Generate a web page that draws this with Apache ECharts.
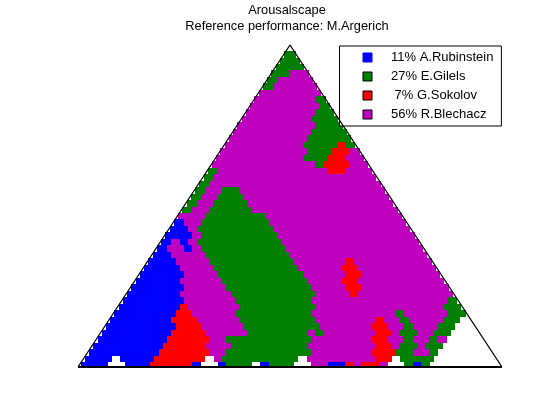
<!DOCTYPE html>
<html>
<head>
<meta charset="utf-8">
<style>html,body{margin:0;padding:0;background:#fff}#c{width:560px;height:420px}</style>
<script src="https://cdn.jsdelivr.net/npm/echarts@6/dist/echarts.min.js"></script>
</head>
<body>
<div id="c"></div>
<script>
const titleLines = ["Arousalscape", "Reference performance: M.Argerich"];
const performers = ["B", "G", "R", "M"];
const performerNames = ["11% A.Rubinstein", "27% E.Gilels", " 7% G.Sokolov", "56% R.Blechacz"];
const performerColors = ["#0000ff", "#007f00", "#ff0000", "#bf00bf"];
// Scape rows, bottom row first: each token is a performer letter and the
// horizontal position at which that performer's run ends (W = no winner).
const scapeRows = [
"B3.5 W5.5 B8.5 R13.5 B14.5 W16.5 B17.5 G20.5 W21.5 B22.5 G25.5 W27.5 M29.5 B31.5 R32.5 M33.5 R35.5 M36.5 W38.5 G39.5 B40.5 G41.5",
"B4 W5 B9 R15 W16 M17 G26 W27 M35 R37 W38 G42",
"B9.5 R15.5 M17.5 G27.5 M34.5 R37.5 G39.5 M41.5 G42.5",
"B10 R15 M18 G27 M35 R37 M38 G40 M41 G43",
"B10.5 R15.5 M17.5 G27.5 M34.5 R36.5 M38.5 G39.5 M41.5 G42.5 M43.5",
"B11 R15 M20 G27 M28 G29 M35 R37 M38 G40 M42 G44",
"B11.5 R14.5 M19.5 G28.5 M34.5 R36.5 M38.5 G39.5 M42.5 G44.5",
"B11 R14 M19 G28 M35 R36 M38 G39 M43 G45",
"B11.5 R13.5 M18.5 G27.5 M37.5 G38.5 M43.5 G45.5",
"B12 R13 M19 G28 M43 G45",
"B12.5 M18.5 G27.5 M43.5 G44.5",
"B12 M18 G28 M32 R33 M44",
"B12.5 M17.5 G27.5 M31.5 R33.5 M43.5",
"B12 M17 G27 M31 R33 M43",
"B12.5 M16.5 G26.5 M31.5 R33.5 M42.5",
"B12 M16 G26 M31 R33 M42",
"B11.5 M15.5 G25.5 M31.5 R32.5 M41.5",
"B11 M15 G25 M41",
"B10.5 M12.5 B13.5 M14.5 G24.5 M40.5",
"B11 M12 B13 M14 G24 M40",
"B13.5 M14.5 G23.5 M39.5",
"B13 M14 G23 M39",
"B12.5 M14.5 G22.5 M38.5",
"M15 G22 M38",
"G13.5 M15.5 G20.5 M37.5",
"G14 M16 G20 M37",
"G14.5 M16.5 G19.5 M36.5",
"G15 M17 G19 M36",
"G15.5 M35.5",
"G16 M35",
"G16.5 M29.5 R31.5 M34.5",
"M28 G29 R32 M34",
"M26.5 G29.5 R31.5 M33.5",
"M27 G30 R32 M33",
"M26.5 G30.5 R31.5 G32.5",
"M27 G32",
"M27.5 G31.5",
"M28 G31",
"M27.5 G30.5",
"M28 G30",
"M28.5 G29.5",
"M28 G29",
"M28.5",
"G23 M28",
"G23.5 M27.5",
"G25 M27",
"G26.5",
"G26",
"G25.5"
];
const triangleX = [0, 25, 50];
const triangleTop = 49.7;
const triangleY = [0, triangleTop, 0];

const cells = {};
performers.forEach(p => cells[p] = []);
scapeRows.forEach((row, r) => {
  let u = r / 2 + 1;
  row.split(" ").forEach(tok => {
    const who = tok[0], end = parseFloat(tok.slice(1));
    while (u < end) {
      if (cells[who]) cells[who].push([u, r]);
      u += 1;
    }
  });
});

function renderCell(params, api) {
  const u = api.value(0), r = api.value(1);
  const firstInRow = u === r / 2 + 1;
  const lastInRow = u === 49 - r / 2;
  const a = api.coord([u - 0.5 - (firstInRow ? 0.2 : 0), r + 0.77]);
  const b = api.coord([u + 0.5 + (lastInRow ? 0.2 : 0), r - 0.23]);
  const x0 = Math.round(a[0]), x1 = Math.round(b[0]);
  const y0 = Math.round(a[1]), y1 = Math.round(b[1]);
  return {
    type: "rect",
    shape: {x: x0, y: y0, width: x1 - x0, height: y1 - y0},
    style: {fill: api.visual("color")}
  };
}

const series = performers.map((p, i) => ({
  type: "custom",
  name: performerNames[i],
  clip: true,
  silent: true,
  animation: false,
  itemStyle: {color: performerColors[i]},
  encode: {x: 0, y: 1},
  renderItem: renderCell,
  data: cells[p]
}));
series.push({
  type: "line",
  silent: true,
  animation: false,
  symbol: "none",
  z: 5,
  clip: false,
  lineStyle: {color: "#000", width: 1.3},
  data: triangleX.map((x, i) => [x, triangleY[i]])
});
series.push({
  type: "line",
  silent: true,
  animation: false,
  symbol: "none",
  z: 5,
  clip: false,
  lineStyle: {color: "#000", width: 2},
  data: [[triangleX[0], triangleY[0]], [triangleX[2], triangleY[2]]]
});

const chart = echarts.init(document.getElementById("c"), null, {renderer: "canvas"});
chart.setOption({
  animation: false,
  backgroundColor: "#fff",
  title: {
    text: titleLines.join("\n"),
    left: 282, top: -3,
    textAlign: "center",
    textStyle: {fontFamily: "Liberation Sans", fontSize: 12.8, fontWeight: "normal", color: "#000", lineHeight: 16}
  },
  tooltip: {show: false},
  grid: {left: 78, right: 58, top: 45, bottom: 53, containLabel: false},
  xAxis: {type: "value", min: 0, max: 50, show: false},
  yAxis: {type: "value", min: 0, max: triangleTop, show: false},
  legend: {
    orient: "vertical",
    left: 339.5, top: 46,
    selectedMode: false,
    backgroundColor: "#fff",
    borderColor: "#000",
    borderWidth: 1,
    borderRadius: 0,
    padding: [5, 8, 5, 23],
    itemWidth: 9, itemHeight: 9,
    itemGap: 6,
    icon: "rect",
    textStyle: {fontFamily: "Liberation Sans", fontSize: 13, color: "#000", padding: [0, 0, 0, 14]},
    data: performerNames.map((n, i) => ({
      name: n,
      itemStyle: {color: performerColors[i], borderColor: i === 0 ? performerColors[i] : "#000", borderWidth: 1}
    }))
  },
  series
});
</script>
</body>
</html>
